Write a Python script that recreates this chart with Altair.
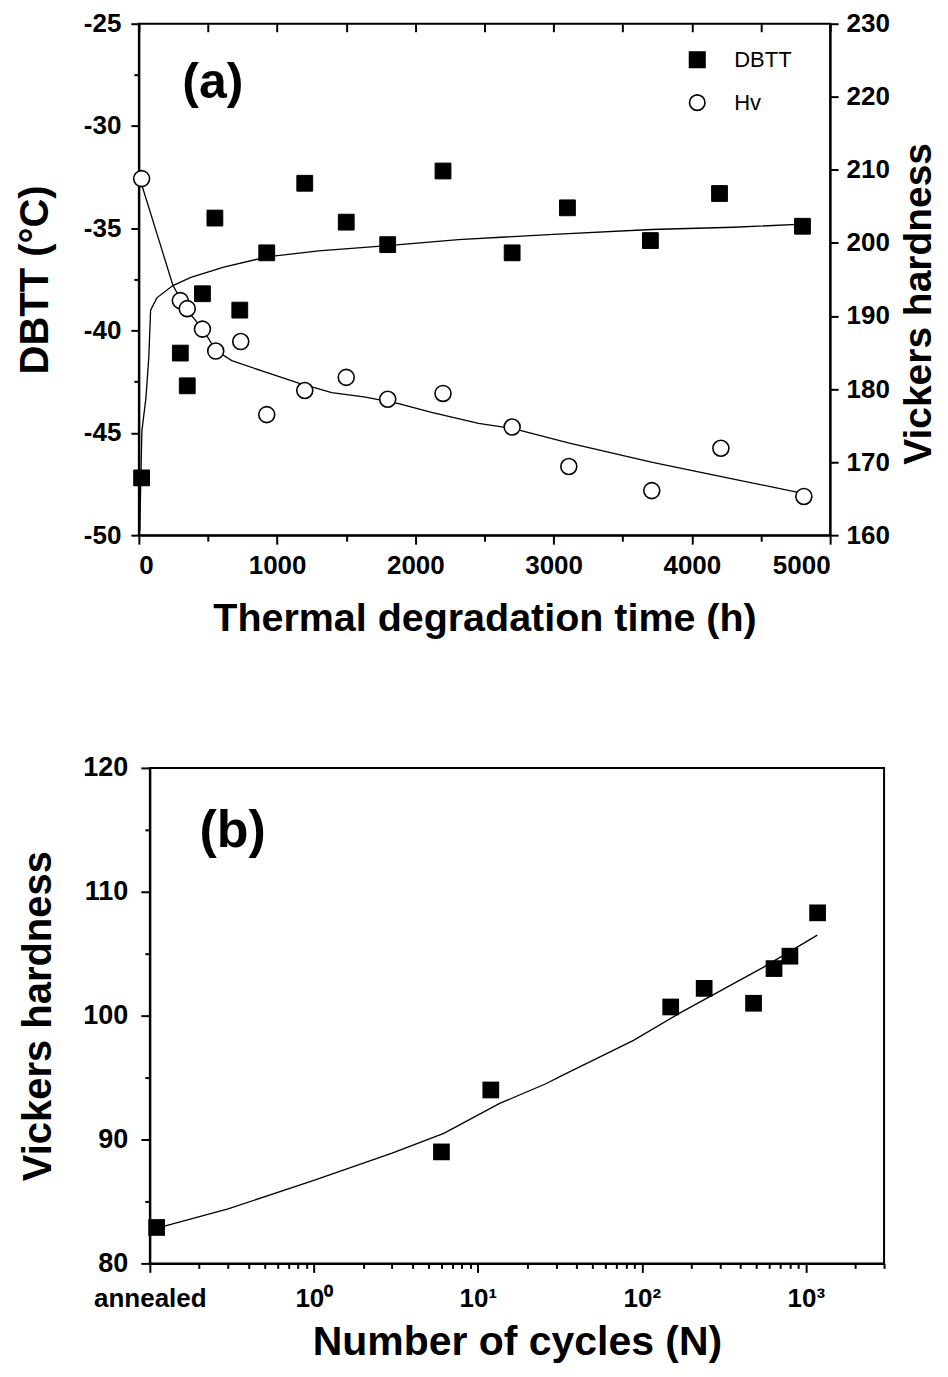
import altair as alt
import pandas as pd

FONT = "Liberation Sans"

# ---------------- Panel (a) data ----------------
dbtt_time = [20, 300, 350, 460, 550, 730, 925, 1200, 1500, 1800, 2200, 2700, 3100, 3700, 4200, 4800]
dbtt_val = [-47.2, -41.1, -42.7, -38.2, -34.5, -39.0, -36.2, -32.8, -34.7, -35.8, -32.2, -36.2, -34.0, -35.6, -33.3, -34.9]

hv_time = [20, 300, 350, 460, 556, 737, 925, 1200, 1500, 1800, 2200, 2700, 3110, 3710, 4210, 4810]
hv_val = [208.8, 192.1, 191.0, 188.2, 185.2, 186.5, 176.5, 179.8, 181.6, 178.6, 179.4, 174.8, 169.4, 166.1, 171.9, 165.3]

fit_dbtt_t = [7, 14, 22, 51, 72, 85, 130, 246, 376, 614, 925, 1300, 1800, 2312, 3000, 3707, 4300, 4805]
fit_dbtt_v = [-49.8, -47.3, -44.9, -43.3, -41.3, -39.0, -38.4, -37.8, -37.4, -36.9, -36.4, -36.1, -35.85, -35.55, -35.3, -35.06, -34.95, -34.8]

fit_hv_t = [22, 130, 246, 340, 462, 556, 672, 917, 1156, 1395, 1640, 1879, 2117, 2457, 2702, 3114, 3707, 4240, 4812]
fit_hv_v = [207.9, 201.3, 194.2, 191.0, 188.2, 185.3, 183.9, 182.3, 180.8, 179.5, 178.9, 178.0, 176.8, 175.3, 174.6, 172.6, 170.0, 167.9, 165.7]

x_ticks_a = [0, 500, 1000, 1500, 2000, 2500, 3000, 3500, 4000, 4500, 5000]
yl_ticks_a = [-50, -47.5, -45, -42.5, -40, -37.5, -35, -32.5, -30, -27.5, -25]
yr_ticks_a = [160, 165, 170, 175, 180, 185, 190, 195, 200, 205, 210, 215, 220, 225, 230]
series_names = ["DBTT", "Hv"]

# ---------------- Panel (b) data ----------------
cycles = [0.11, 6, 12, 150, 240, 480, 640, 800, 1180]
hv_b = [82.9, 89.0, 94.0, 100.7, 102.2, 101.0, 103.8, 104.8, 108.3]

fit_b_n = [0.115, 0.3, 1, 3, 6.2, 13.5, 26, 33, 89, 170, 550, 1175]
fit_b_v = [82.9, 84.4, 86.7, 88.9, 90.5, 92.9, 94.5, 95.2, 98.0, 100.2, 103.9, 106.5]

x_ticks_b = [0.1, 0.2, 0.3, 0.4, 0.5, 0.6, 0.7, 0.8, 0.9,
             1, 2, 3, 4, 5, 6, 7, 8, 9,
             10, 20, 30, 40, 50, 60, 70, 80, 90,
             100, 200, 300, 400, 500, 600, 700, 800, 900,
             1000, 2000, 3000]
y_ticks_b = [80, 85, 90, 95, 100, 105, 110, 115, 120]

# ---------------- common axis style ----------------
def ax(**kw):
    base = dict(
        grid=False, domainColor="black", domainWidth=2, tickColor="black", tickWidth=2,
        labelColor="black", labelFont=FONT, labelFontWeight="bold",
        titleColor="black", titleFont=FONT, titleFontWeight="bold",
    )
    base.update(kw)
    return alt.Axis(**base)

# ---------------- Panel (a) ----------------
df_d = pd.DataFrame({"t": dbtt_time, "v": dbtt_val, "series": "DBTT"})
df_h = pd.DataFrame({"t": hv_time, "v": hv_val, "series": "Hv"})
df_fd = pd.DataFrame({"t": fit_dbtt_t, "v": fit_dbtt_v})
df_fh = pd.DataFrame({"t": fit_hv_t, "v": fit_hv_v})
df_la = pd.DataFrame({"t": [535], "v": [-27.9], "txt": ["(a)"]})

xs_a = alt.Scale(domain=[0, 5000], nice=False, zero=False)
yl_scale = alt.Scale(domain=[-50, -25], nice=False, zero=False)
yr_scale = alt.Scale(domain=[160, 230], nice=False, zero=False)

x_bottom = ax(
    values=x_ticks_a, format="d",
    labelExpr="datum.value % 1000 === 0 ? datum.label : ''",
    tickSize={"condition": {"test": "datum.value % 1000 === 0", "value": 9}, "value": 6},
    labelFontSize=26, labelPadding=8,
    title="Thermal degradation time (h)", titleFontSize=39.5, titlePadding=21,
)
x_top = ax(
    orient="top", values=x_ticks_a, labels=False, domain=False, title=None,
    tickSize=8, offset=-8,
)
y_left = ax(
    values=yl_ticks_a,
    labelExpr="datum.value % 5 === 0 ? '' + datum.value : ''",
    tickSize={"condition": {"test": "datum.value % 5 === 0", "value": 8}, "value": 5},
    labelFontSize=26, labelPadding=10,
    title="DBTT (°C)", titleFontSize=40, titlePadding=28,
)
y_right = ax(
    orient="right", values=yr_ticks_a,
    labelExpr="datum.value % 10 === 0 ? '' + datum.value : ''",
    tickSize={"condition": {"test": "datum.value % 10 === 0", "value": 8}, "value": 5},
    labelFontSize=26, labelPadding=8,
    title="Vickers hardness", titleFontSize=39, titlePadding=10, titleAngle=270,
    titleBaseline="top", titleY=280,
)

shape_scale = alt.Scale(domain=series_names, range=["square", "circle"])
fill_scale = alt.Scale(domain=series_names, range=["black", "white"])
stroke_scale = alt.Scale(domain=series_names, range=["black", "black"])
legend = alt.Legend(
    orient="none", legendX=548, legendY=25, title=None,
    labelFont=FONT, labelFontSize=22, labelColor="black",
    symbolSize=240, symbolStrokeColor="black", symbolStrokeWidth=1.6,
    rowPadding=21, labelOffset=26,
)

pts_d = alt.Chart(df_d).mark_point(size=250, opacity=1, strokeWidth=1).encode(
    x=alt.X("t:Q", scale=xs_a, axis=x_bottom),
    y=alt.Y("v:Q", scale=yl_scale, axis=y_left),
    shape=alt.Shape("series:N", scale=shape_scale, legend=legend),
    fill=alt.Fill("series:N", scale=fill_scale, legend=legend),
    stroke=alt.Stroke("series:N", scale=stroke_scale, legend=legend),
)
line_d = alt.Chart(df_fd).mark_line(color="black", strokeWidth=1.3).encode(
    x=alt.X("t:Q", scale=xs_a), y=alt.Y("v:Q", scale=yl_scale), order="t:Q"
)
lab_a = alt.Chart(df_la).mark_text(font=FONT, fontWeight="bold", fontSize=50, color="black").encode(
    x=alt.X("t:Q", scale=xs_a), y=alt.Y("v:Q", scale=yl_scale), text="txt:N"
)
left_layer = alt.layer(line_d, pts_d, lab_a)

pts_h = alt.Chart(df_h).mark_point(size=256, opacity=1, strokeWidth=1.6).encode(
    x=alt.X("t:Q", scale=xs_a, axis=x_top),
    y=alt.Y("v:Q", scale=yr_scale, axis=y_right),
    shape=alt.Shape("series:N", scale=shape_scale, legend=legend),
    fill=alt.Fill("series:N", scale=fill_scale, legend=legend),
    stroke=alt.Stroke("series:N", scale=stroke_scale, legend=legend),
)
line_h = alt.Chart(df_fh).mark_line(color="black", strokeWidth=1.3).encode(
    x=alt.X("t:Q", scale=xs_a), y=alt.Y("v:Q", scale=yr_scale), order="t:Q"
)
right_layer = alt.layer(line_h, pts_h)

chart_a = alt.layer(left_layer, right_layer).resolve_scale(y="independent").resolve_axis(
    x="independent", y="independent"
).properties(width=692, height=512)

# ---------------- Panel (b) ----------------
df_b = pd.DataFrame({"n": cycles, "v": hv_b})
df_fb = pd.DataFrame({"n": fit_b_n, "v": fit_b_v})
df_lb = pd.DataFrame({"n": [0.32], "v": [114.9], "txt": ["(b)"]})

xs_b = alt.Scale(type="log", domain=[0.1, 3000], nice=False)
ys_b = alt.Scale(domain=[80, 120], nice=False, zero=False)

x_axis_b = ax(
    values=x_ticks_b,
    labelExpr=("datum.value == 0.1 ? 'annealed' : datum.value == 1 ? '10\u2070' : "
               "datum.value == 10 ? '10\u00b9' : datum.value == 100 ? '10\u00b2' : "
               "datum.value == 1000 ? '10\u00b3' : ''"),
    tickSize={"condition": {"test": "indexof([0.1, 1, 10, 100, 1000], datum.value) >= 0", "value": 9},
              "value": 5},
    labelFontSize=26, labelPadding=13, labelFlush=False,
    title="Number of cycles (N)", titleFontSize=41, titlePadding=11,
)
y_axis_b = ax(
    values=y_ticks_b,
    labelExpr="datum.value % 10 === 0 ? '' + datum.value : ''",
    tickSize={"condition": {"test": "datum.value % 10 === 0", "value": 9}, "value": 5},
    labelFontSize=27, labelPadding=13,
    title="Vickers hardness", titleFontSize=40, titlePadding=24,
)

pts_b = alt.Chart(df_b).mark_square(size=280, color="black", opacity=1).encode(
    x=alt.X("n:Q", scale=xs_b, axis=x_axis_b),
    y=alt.Y("v:Q", scale=ys_b, axis=y_axis_b),
)
line_b = alt.Chart(df_fb).mark_line(color="black", strokeWidth=1.3).encode(
    x=alt.X("n:Q", scale=xs_b), y=alt.Y("v:Q", scale=ys_b), order="n:Q"
)
lab_b = alt.Chart(df_lb).mark_text(font=FONT, fontWeight="bold", fontSize=52, color="black").encode(
    x=alt.X("n:Q", scale=xs_b), y=alt.Y("v:Q", scale=ys_b), text="txt:N"
)
chart_b = alt.layer(line_b, pts_b, lab_b).properties(width=735, height=496)

# invisible spacer that shifts panel (b) slightly right of panel (a)
spacer = alt.Chart(pd.DataFrame({"z": [0]})).mark_point(opacity=0).encode(
    x=alt.value(0), y=alt.value(0)
).properties(width=11, height=496, view=alt.ViewBackground(strokeOpacity=0))

row_b = alt.hconcat(spacer, chart_b, spacing=0, bounds="flush")

chart = alt.vconcat(chart_a, row_b, spacing=114).resolve_scale(
    shape="independent", fill="independent", stroke="independent"
).properties(
    padding={"left": 6, "top": 1, "right": 0, "bottom": 0},
    background="white",
).configure_view(stroke="black", strokeWidth=2)

chart.save("out.html", embed_options={"renderer": "svg", "actions": False})
